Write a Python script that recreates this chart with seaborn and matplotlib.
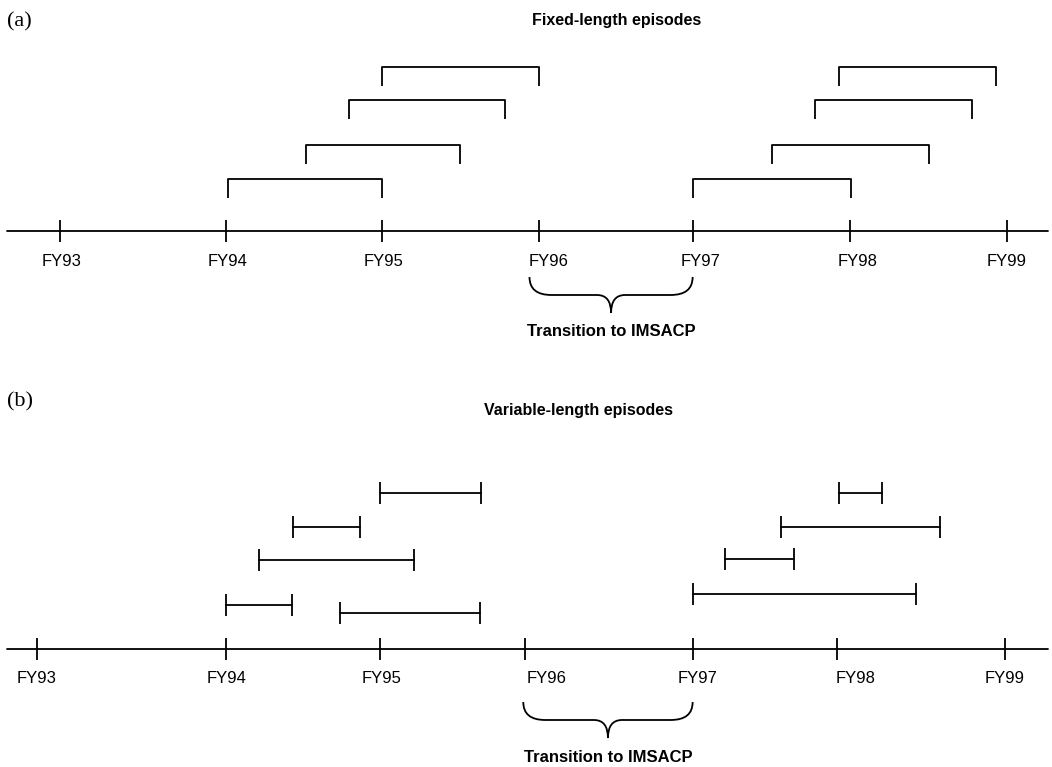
import numpy as np
import pandas as pd
import matplotlib
matplotlib.use("Agg")
import matplotlib.pyplot as plt
from matplotlib.path import Path
from matplotlib.patches import PathPatch
import seaborn as sns

# ------------------------------------------------------------------ data
fy_labels = ["FY93", "FY94", "FY95", "FY96", "FY97", "FY98", "FY99"]

# tick positions on the time line (fiscal years) as drawn in each panel
ticks_a = [92.92, 93.99, 94.99, 96.00, 96.99, 98.00, 99.01]
ticks_b = [92.77, 93.99, 94.98, 95.91, 96.99, 97.92, 99.00]
# label centres (fiscal years)
labels_a_x = [92.93, 94.00, 95.00, 96.06, 97.04, 98.05, 99.01]
labels_b_x = [92.77, 93.99, 94.99, 96.05, 97.02, 98.04, 99.00]

# (a) fixed-length episodes
fixed_start = [94.00, 94.50, 94.78, 94.99, 96.99, 97.50, 97.78, 97.93]
fixed_end = [94.99, 95.49, 95.78, 96.00, 98.01, 98.51, 98.79, 98.94]
fixed_level = [52, 86, 131, 164, 52, 86, 131, 164]

# (b) variable-length episodes
var_start = [93.99, 94.72, 94.20, 94.42, 94.98, 96.99, 97.20, 97.56, 97.93]
var_end = [94.41, 95.62, 95.20, 94.85, 95.63, 98.43, 97.64, 98.58, 98.21]
var_level = [44, 36, 89, 122, 156, 55, 90, 122, 156]

# transition period bracket
transition_a = [95.94, 96.99]
transition_b = [95.90, 96.99]

titles = ["Fixed-length episodes", "Variable-length episodes"]
panel_tags = ["(a)", "(b)"]
transition_text = "Transition to IMSACP"

# ------------------------------------------------------------------ layout
W, H = 1052, 767
PPY = 155.4                       # pixels per fiscal year
X0 = 94 - 228 / PPY               # fiscal year at left figure edge
BASE_A, BASE_B = 231, 648.5       # y (pixels from top) of the time lines
LW = 1.3
SANS = ["Liberation Sans", "DejaVu Sans"]
SERIF = ["Liberation Serif", "DejaVu Serif"]

sns.set_theme(style="white")
plt.rcParams["font.family"] = SANS
plt.rcParams["text.color"] = "black"

fig = plt.figure(figsize=(W / 100, H / 100), dpi=100)
ax = fig.add_axes([0, 0, 1, 1])


def px2yr(px):
    return X0 + px / PPY


# ------------------------------------------------ episode segments (seaborn)
rows = []
seg = 0
for s, e, lv in zip(fixed_start, fixed_end, fixed_level):
    rows += [(seg, s, BASE_A - lv), (seg, e, BASE_A - lv)]
    seg += 1
for s, e, lv in zip(var_start, var_end, var_level):
    rows += [(seg, s, BASE_B - lv), (seg, e, BASE_B - lv)]
    seg += 1
# time lines
for base in (BASE_A, BASE_B):
    rows += [(seg, px2yr(7), base), (seg, px2yr(1048), base)]
    seg += 1
df = pd.DataFrame(rows, columns=["seg", "x", "y"])
sns.lineplot(data=df, x="x", y="y", units="seg", estimator=None, sort=False,
             color="black", lw=LW, ax=ax, legend=False)
ax.set_xlim(X0, X0 + W / PPY)
ax.set_ylim(H, 0)
ax.axis("off")

# end caps: panel (a) drop downward, panel (b) centred
for s, e, lv in zip(fixed_start, fixed_end, fixed_level):
    y = BASE_A - lv
    ax.vlines([s, e], y, y + 19, color="black", lw=LW)
for s, e, lv in zip(var_start, var_end, var_level):
    y = BASE_B - lv
    ax.vlines([s, e], y - 11, y + 11, color="black", lw=LW)

# ticks and labels
for base, ticks, lx in ((BASE_A, ticks_a, labels_a_x), (BASE_B, ticks_b, labels_b_x)):
    ax.vlines(ticks, base - 11, base + 11, color="black", lw=LW)
    for x, lab in zip(lx, fy_labels):
        ax.text(x, base + 30, lab, ha="center", va="center", fontsize=12,
                family=SANS, color="black")


# braces
def brace(xl, xr, ytop, h=18):
    rx_end = 22 / PPY
    rx_mid = 14 / PPY
    xm = (xl + xr) / 2
    yh = ytop + h
    verts = [(xl, ytop), (xl, yh), (xl + rx_end, yh),
             (xm - rx_mid, yh),
             (xm, yh), (xm, yh + h),
             (xm, yh), (xm + rx_mid, yh),
             (xr - rx_end, yh),
             (xr, yh), (xr, ytop)]
    codes = [Path.MOVETO, Path.CURVE3, Path.CURVE3,
             Path.LINETO,
             Path.CURVE3, Path.CURVE3,
             Path.CURVE3, Path.CURVE3,
             Path.LINETO,
             Path.CURVE3, Path.CURVE3]
    ax.add_patch(PathPatch(Path(verts, codes), fill=False, lw=LW,
                           edgecolor="black"))
    return xm


xm_a = brace(transition_a[0], transition_a[1], 277)
xm_b = brace(transition_b[0], transition_b[1], 702)
ax.text(xm_a, 332, transition_text, ha="center", va="center", fontsize=12,
        fontweight="bold", family=SANS, color="black")
ax.text(xm_b, 757, transition_text, ha="center", va="center", fontsize=12,
        fontweight="bold", family=SANS, color="black")

# titles and panel tags
ax.text(px2yr(617), 20, titles[0], ha="center", va="center", fontsize=11.5,
        fontweight="bold", family=SANS, color="black")
ax.text(px2yr(578), 411, titles[1], ha="center", va="center", fontsize=11.5,
        fontweight="bold", family=SANS, color="black")
ax.text(px2yr(7), 22, panel_tags[0], ha="left", va="center", fontsize=16,
        family=SERIF, color="black")
ax.text(px2yr(7), 402, panel_tags[1], ha="left", va="center", fontsize=16,
        family=SERIF, color="black")

fig.savefig("out.png", dpi=100, facecolor="white")
